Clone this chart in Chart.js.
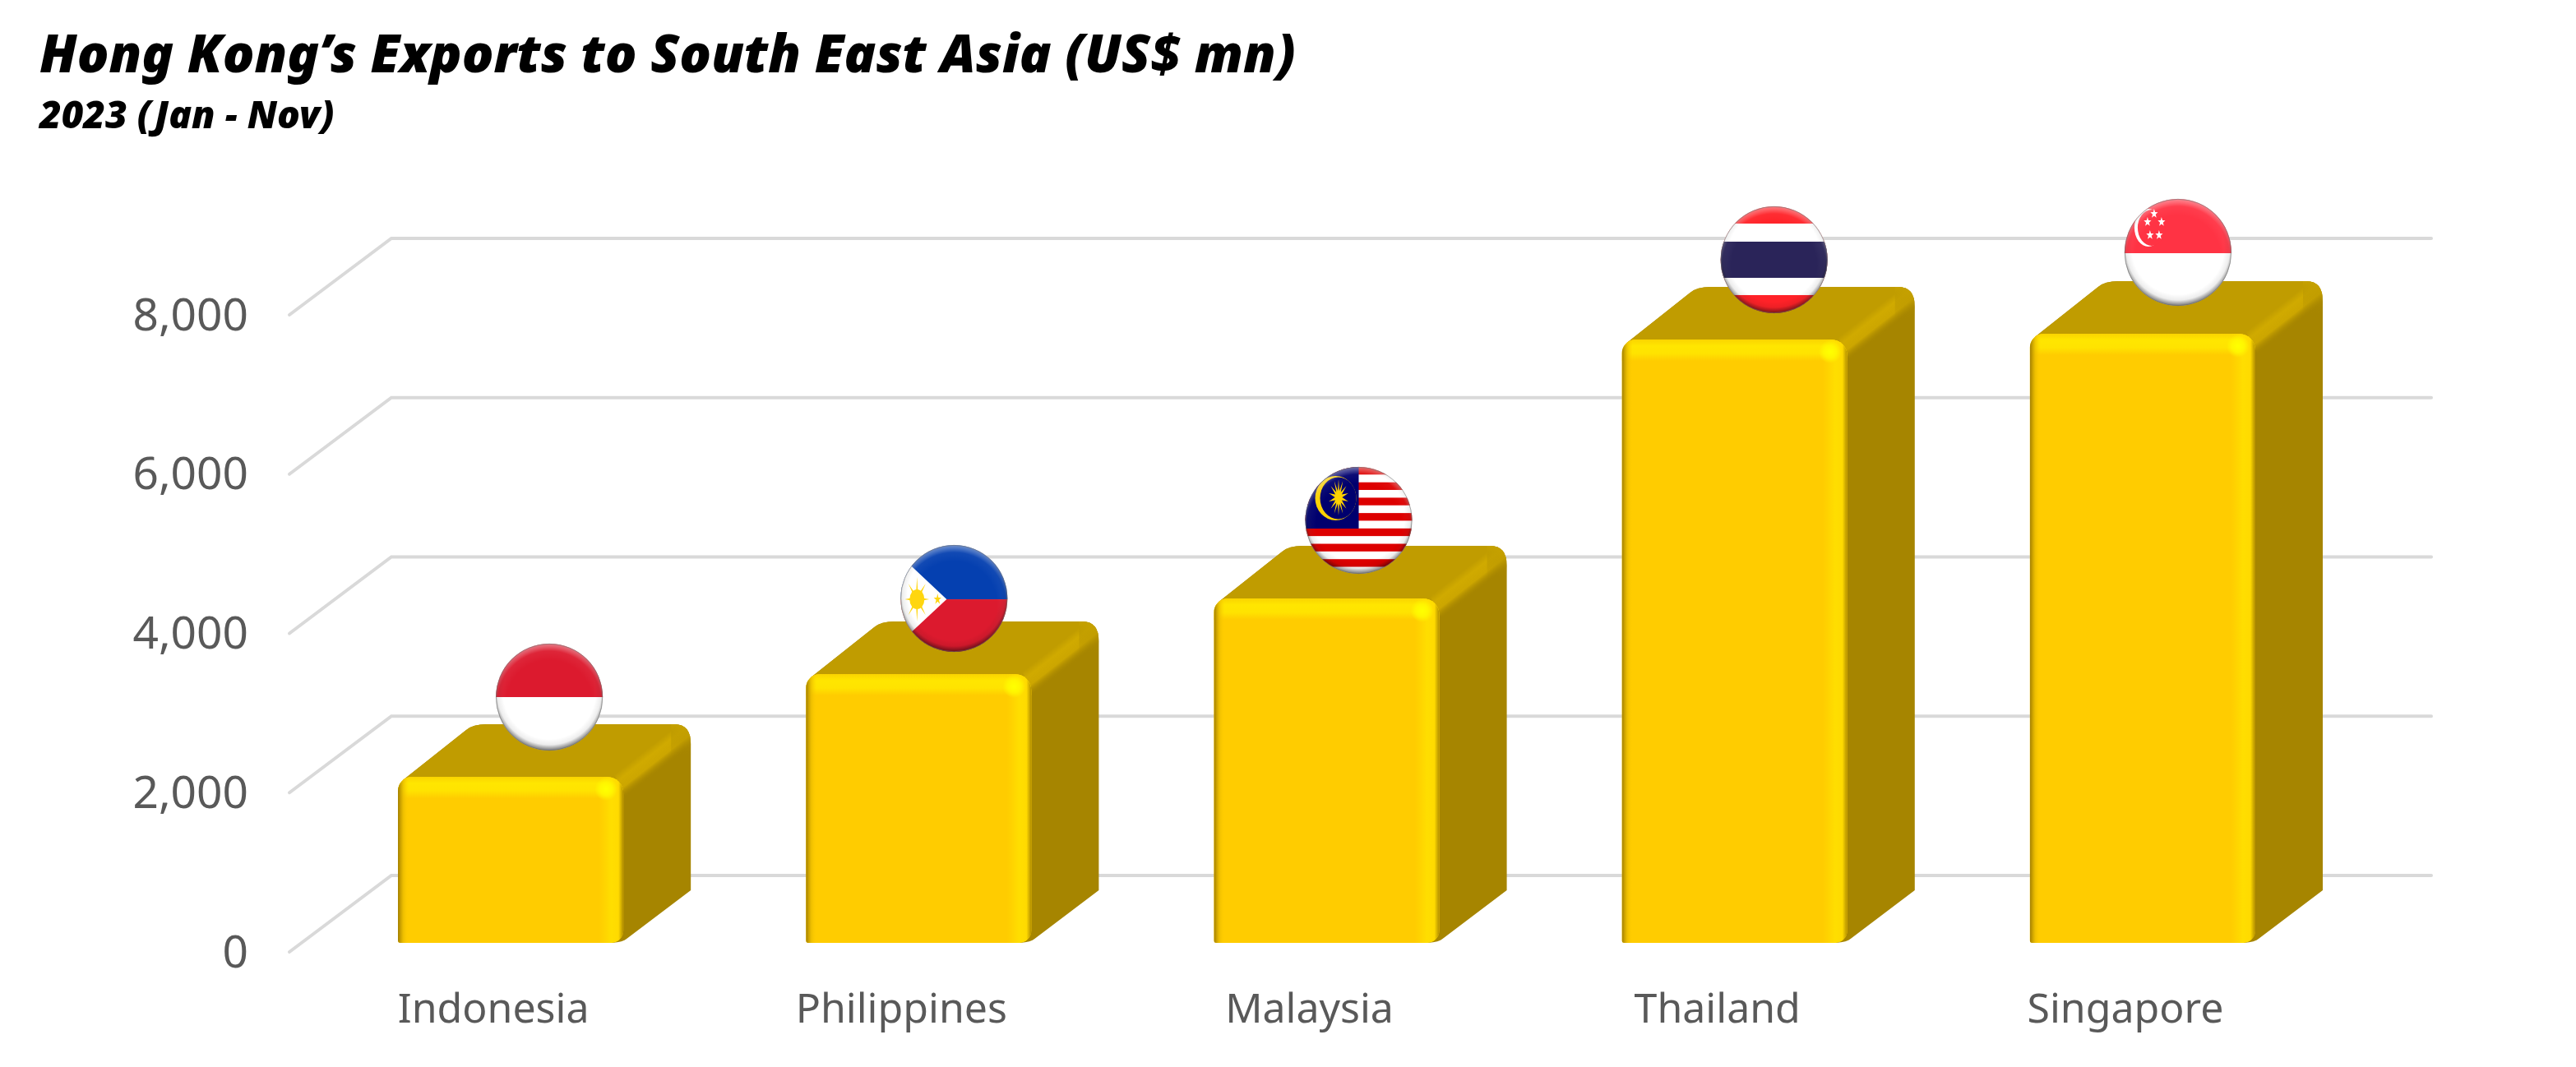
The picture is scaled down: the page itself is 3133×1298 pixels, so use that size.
<!DOCTYPE html>
<html><head><meta charset="utf-8">
<style>html,body{margin:0;padding:0;background:#fff}canvas{display:block}</style>
<script src="https://cdn.jsdelivr.net/npm/chart.js@4"></script>
</head><body><canvas id="c" width="3133" height="1298"></canvas>
<script>
const categories = ['Indonesia','Philippines','Malaysia','Thailand','Singapore'];
const exportValues = [2085,3375,4325,7577,7649];
const titleText = 'Hong Kong’s Exports to South East Asia (US$ mn)';
const subtitleText = '2023 (Jan - Nov)';
const axisMax = 8000;
const axisStep = 2000;

const WALL = {dx:124, dy:-93};      // floor depth of the 3D box
const BAR_DEPTH = {dx:82, dy:-64};  // depth of a bar
const BAR_SHIFT = {dx:21, dy:-11};  // bars sit mid-way in the floor

function star(ctx,x,y,R,r,n,sx){
  sx=sx||1;
  ctx.beginPath();
  for(let i=0;i<n*2;i++){
    const a=-Math.PI/2+i*Math.PI/n, q=i%2?r:R;
    ctx.lineTo(x+sx*q*Math.cos(a),y+q*Math.sin(a));
  }
  ctx.closePath();ctx.fill();
}
const FLAG_R=65;
const flags=[
 (c,x,y)=>{c.fillStyle='#dc1a2e';c.fillRect(x-70,y-70,140,70);c.fillStyle='#fff';c.fillRect(x-70,y,140,70);},
 (c,x,y)=>{
   c.fillStyle='#0540b0';c.fillRect(x-70,y-70,140,71);
   c.fillStyle='#dc1a2e';c.fillRect(x-70,y+1,140,70);
   c.fillStyle='#fff';c.beginPath();c.moveTo(x-9,y+1);c.lineTo(x-79,y-65);c.lineTo(x-80,y+67);c.closePath();c.fill();
   c.fillStyle='#ffd60f';
   star(c,x-45,y+1,27,6,8,.55);
   c.beginPath();c.ellipse(x-45,y+1,9,12,0,0,7);c.fill();
   star(c,x-20,y+1,7,2.6,5,.7);
 },
 (c,x,y)=>{
   c.fillStyle='#fff';c.fillRect(x-70,y-70,140,140);
   c.fillStyle='#dd0000';
   for(let i=0;i<7;i++)c.fillRect(x-70,y-65+i*18.7,140,9.3);
   c.fillStyle='#00006e';c.fillRect(x-70,y-70,70,80);
   c.fillStyle='#ffd200';c.beginPath();c.ellipse(x-28,y-27,25,27,0,0,7);c.fill();
   c.fillStyle='#00006e';c.beginPath();c.ellipse(x-25,y-27,22,25.5,0,0,7);c.fill();
   c.fillStyle='#ffd200';star(c,x-24.5,y-28,22,8,14,.55);
 },
 (c,x,y)=>{
   c.fillStyle='#ff2228';c.fillRect(x-70,y-70,140,140);
   c.fillStyle='#fff';c.fillRect(x-70,y-44,140,87);
   c.fillStyle='#2a2459';c.fillRect(x-70,y-22,140,44);
 },
 (c,x,y)=>{
   c.fillStyle='#ff3344';c.fillRect(x-70,y-70,140,71);
   c.fillStyle='#fff';c.fillRect(x-70,y+1,140,70);
   c.beginPath();c.ellipse(x-36,y-30,17,23,0,0,7);c.fill();
   c.fillStyle='#ff3344';c.beginPath();c.ellipse(x-32,y-30,17,22,0,0,7);c.fill();
   c.fillStyle='#fff';
   [[-29,-47],[-37,-37],[-20,-37],[-34,-21],[-23,-21]].forEach(p=>star(c,x+p[0],y+p[1],6,2.4,5,.8));
 }
];
const flagNudge=[[3,0],[-1,5],[-5,2],[4,0],[-1,-2]];

function drawFlag(ctx,i,x,y){
  const R=FLAG_R;
  ctx.save();
  ctx.beginPath();ctx.arc(x,y,R,0,Math.PI*2);ctx.clip();
  flags[i](ctx,x,y);
  let g=ctx.createRadialGradient(x,y+7,R-13,x,y+7,R+7);
  g.addColorStop(0,'rgba(255,255,255,0)');g.addColorStop(.55,'rgba(255,255,255,.05)');g.addColorStop(1,'rgba(255,255,255,.45)');
  ctx.fillStyle=g;ctx.fillRect(x-R,y-R,2*R,2*R);
  g=ctx.createRadialGradient(x,y-5,R-9,x,y-5,R+5);
  g.addColorStop(0,'rgba(0,0,0,0)');g.addColorStop(.5,'rgba(0,0,0,.07)');g.addColorStop(1,'rgba(0,0,0,.55)');
  ctx.fillStyle=g;ctx.fillRect(x-R,y-R,2*R,2*R);
  ctx.restore();
  ctx.strokeStyle='rgba(110,110,110,.55)';ctx.lineWidth=1;
  ctx.beginPath();ctx.arc(x,y,R-.3,0,Math.PI*2);ctx.stroke();
}

const box3d={
  id:'box3d',
  beforeDatasetsDraw(chart){
    const {ctx,scales:{y:ys},chartArea:a}=chart;
    ctx.save();
    ctx.strokeStyle='#d9d9d9';ctx.lineWidth=4;ctx.lineCap='round';ctx.lineJoin='miter';
    ys.ticks.forEach(t=>{
      const py=ys.getPixelForValue(t.value);
      ctx.beginPath();ctx.moveTo(a.left,py);ctx.lineTo(a.left+WALL.dx,py+WALL.dy);ctx.lineTo(a.right+WALL.dx,py+WALL.dy);ctx.stroke();
    });
    ctx.restore();
    const meta=chart.getDatasetMeta(0);
    meta.data.forEach(bar=>{
      const hw=bar.width/2,x0=bar.x-hw+BAR_SHIFT.dx,x1=bar.x+hw+BAR_SHIFT.dx,y0=bar.y+BAR_SHIFT.dy,b=bar.base+BAR_SHIFT.dy;
      const dx=BAR_DEPTH.dx,dy=BAR_DEPTH.dy;
      ctx.save();
      ctx.fillStyle='#a68500';
      ctx.beginPath();
      ctx.moveTo(x0+6,y0+4);
      ctx.lineTo(x0+dx+1,y0+dy+7);
      ctx.quadraticCurveTo(x0+dx+9,y0+dy,x0+dx+26,y0+dy);
      ctx.lineTo(x1+dx-20,y0+dy);
      ctx.quadraticCurveTo(x1+dx,y0+dy,x1+dx,y0+dy+24);
      ctx.lineTo(x1+dx,b+dy);
      ctx.lineTo(x1+4,b-5);
      ctx.quadraticCurveTo(x1,b-1,x1-14,b);
      ctx.lineTo(x1-14,y0+10);
      ctx.closePath();ctx.fill();
      ctx.clip();
      ctx.fillStyle='#c09c00';
      ctx.beginPath();
      ctx.moveTo(x0,y0+10);ctx.lineTo(x0+dx-20,y0+dy-4);ctx.lineTo(x1+dx+4,y0+dy-4);ctx.lineTo(x1+dx+4,y0+dy+4);ctx.lineTo(x1,y0+8);ctx.closePath();ctx.fill();
      const ux=-dy,uy=dx,ul=Math.hypot(ux,uy),nx=ux/ul,ny=uy/ul;
      const mx=x1,my=y0+4;
      const g=ctx.createLinearGradient(mx-nx*12,my-ny*12,mx+nx*18,my+ny*18);
      g.addColorStop(0,'rgba(208,170,0,0)');g.addColorStop(.28,'rgba(208,170,0,1)');g.addColorStop(.62,'rgba(204,166,0,1)');g.addColorStop(1,'rgba(166,133,0,0)');
      ctx.fillStyle=g;
      ctx.beginPath();ctx.moveTo(x1-12,y0-4);ctx.lineTo(x1+dx-24,y0+dy-2);ctx.lineTo(x1+dx+4,y0+dy-2);ctx.lineTo(x1+dx+4,y0+dy+44);ctx.lineTo(x1+8,y0+34);ctx.closePath();ctx.fill();
      const g2=ctx.createLinearGradient(0,y0+dy,0,y0+dy+40);
      g2.addColorStop(0,'rgba(198,162,0,.9)');g2.addColorStop(1,'rgba(166,133,0,0)');
      ctx.fillStyle=g2;ctx.fillRect(x1+dx-24,y0+dy,24,40);
      ctx.restore();
    });
    ctx.save();
    ctx.translate(BAR_SHIFT.dx,BAR_SHIFT.dy);
  },
  afterDatasetsDraw(chart){
    const {ctx}=chart;
    ctx.restore();
    const meta=chart.getDatasetMeta(0);
    meta.data.forEach((bar,i)=>{
      const hw=bar.width/2,x0=bar.x-hw+BAR_SHIFT.dx,x1=bar.x+hw+BAR_SHIFT.dx,y0=bar.y+BAR_SHIFT.dy,b=bar.base+BAR_SHIFT.dy;
      ctx.save();
      ctx.beginPath();ctx.roundRect(x0,y0,x1-x0,b-y0,[17,20,15,3]);ctx.clip();
      let g=ctx.createLinearGradient(0,y0,0,y0+26);
      g.addColorStop(0,'#fad400');g.addColorStop(.3,'#ffe600');g.addColorStop(.65,'#ffe300');g.addColorStop(1,'#ffcc00');
      ctx.fillStyle=g;ctx.fillRect(x0,y0,x1-x0,26);
      g=ctx.createLinearGradient(x1-30,0,x1,0);
      g.addColorStop(0,'rgba(255,221,0,0)');g.addColorStop(.5,'rgba(255,224,0,.9)');g.addColorStop(.8,'rgba(255,218,0,1)');g.addColorStop(1,'rgba(176,140,0,1)');
      ctx.fillStyle=g;ctx.fillRect(x1-30,y0,30,b-y0);
      g=ctx.createLinearGradient(x0,0,x0+13,0);
      g.addColorStop(0,'rgba(160,125,0,1)');g.addColorStop(.5,'rgba(230,185,0,.7)');g.addColorStop(1,'rgba(255,204,0,0)');
      ctx.fillStyle=g;ctx.fillRect(x0,y0,13,b-y0);
      g=ctx.createRadialGradient(x1-21,y0+15,1,x1-21,y0+15,14);
      g.addColorStop(0,'rgba(255,255,0,1)');g.addColorStop(.5,'rgba(255,255,0,.7)');g.addColorStop(1,'rgba(255,255,0,0)');
      ctx.fillStyle=g;ctx.fillRect(x1-36,y0,30,30);
      ctx.restore();
      drawFlag(ctx,i,(x0+x1)/2+44+flagNudge[i][0],y0-97+flagNudge[i][1]);
    });
  }
};

new Chart(document.getElementById('c').getContext('2d'),{
  type:'bar',
  plugins:[box3d],
  data:{labels:categories,datasets:[{
    data:exportValues,
    backgroundColor:'#ffcc00',
    borderWidth:0,
    borderSkipped:false,
    borderRadius:{topLeft:17,topRight:20,bottomRight:15,bottomLeft:3},
    categoryPercentage:1,
    barPercentage:0.5525
  }]},
  options:{
    responsive:false,animation:false,
    layout:{padding:{left:48,right:300,top:0,bottom:0}},
    plugins:{
      legend:{display:false},tooltip:{enabled:false},
      title:{display:true,text:titleText,align:'start',color:'#000',
        font:{family:'"Noto Sans"',size:64,weight:'900',style:'italic',lineHeight:1},
        padding:{top:38,bottom:0}},
      subtitle:{display:true,text:subtitleText,align:'start',color:'#000',
        font:{family:'"Noto Sans"',size:46,weight:'900',style:'italic',lineHeight:1},
        padding:{top:18,bottom:217}}
    },
    scales:{
      x:{
        grid:{display:false},border:{display:false},
        ticks:{color:'#595959',font:{family:'"Noto Sans"',size:50},padding:34,maxRotation:0,autoSkip:false},
        afterFit(s){s.height=140;}
      },
      y:{
        min:0,max:axisMax,
        grid:{display:false},border:{display:false},
        ticks:{stepSize:axisStep,color:'#595959',font:{family:'"Noto Sans"',size:55},padding:42,labelOffset:3,
          callback:v=>v.toLocaleString('en-US')},
        afterFit(s){s.width=304;}
      }
    }
  }
});
</script></body></html>
